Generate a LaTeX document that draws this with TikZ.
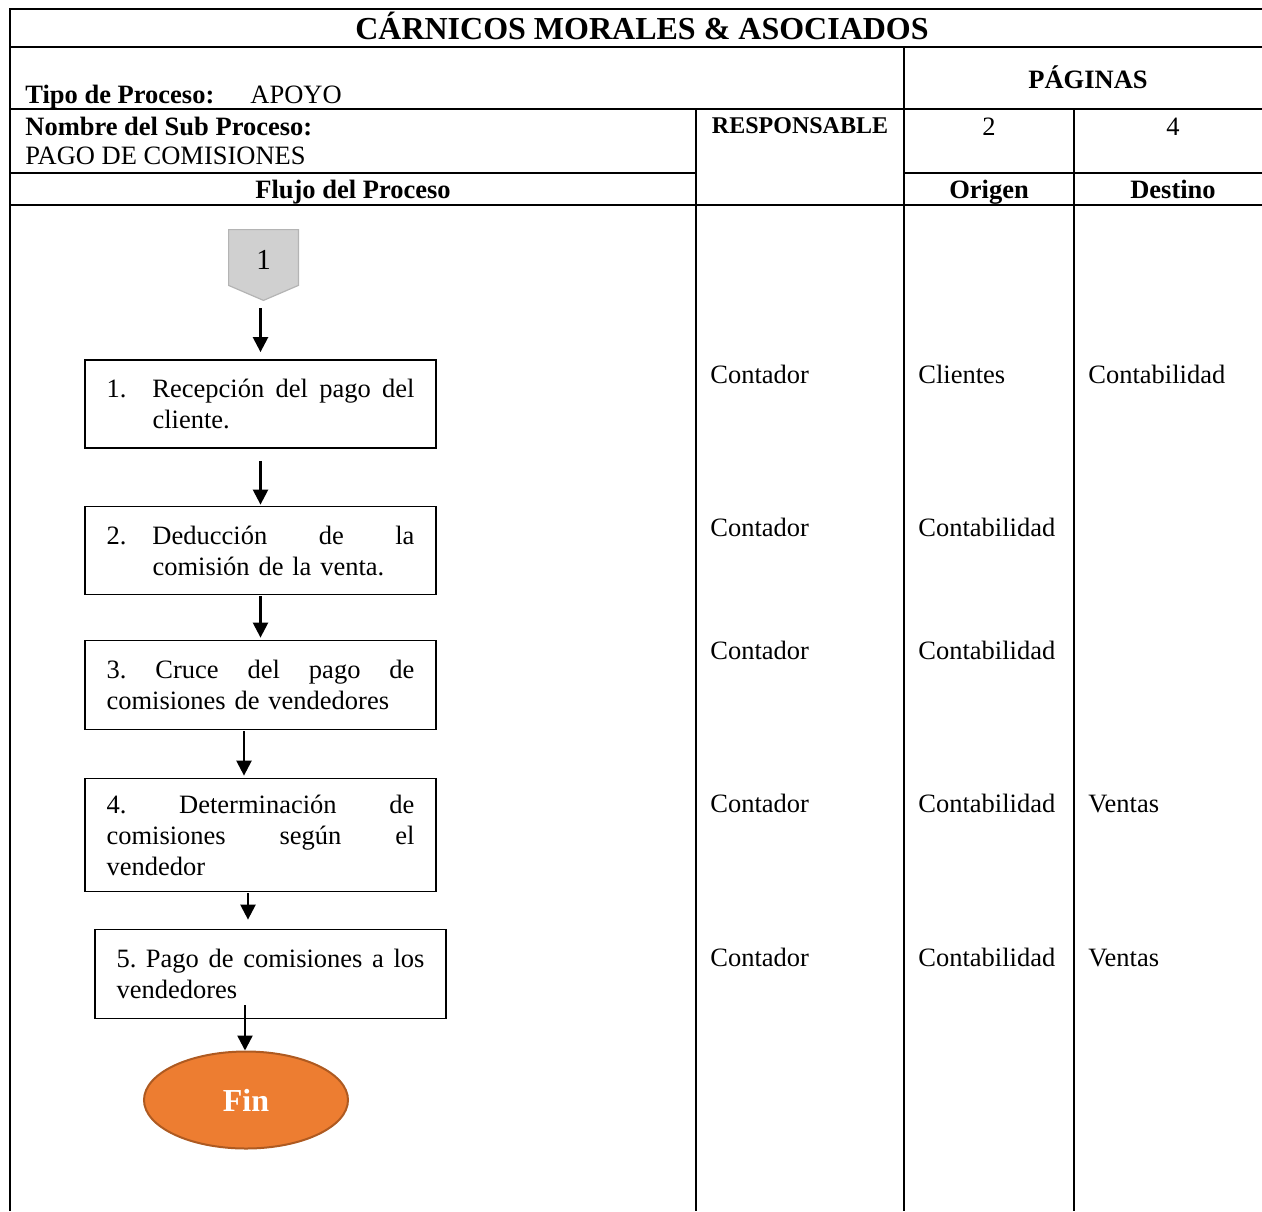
\documentclass[tikz,border=0pt]{standalone}
\usepackage{fontspec}
\setmainfont{Liberation Serif}
\usetikzlibrary{arrows.meta,shapes.geometric}
\definecolor{finfill}{HTML}{ED7D31}
\definecolor{findraw}{HTML}{AE5A21}
\definecolor{tagfill}{HTML}{D0D0D0}
\definecolor{tagdraw}{HTML}{B4B4B4}
\newcommand\txtsize{\fontsize{13.25pt}{15.5pt}\selectfont}
% a fully justified line: every interword space stretches evenly
\newcommand\jline[1]{\leavevmode\hbox to 154pt{\spaceskip=0.25em plus 1fil\relax\xspaceskip=\spaceskip #1}}

\begin{document}
\begin{tikzpicture}[x=0.5pt,y=-0.5pt,
  rule/.style={line width=1.15pt},
  cell/.style={inner sep=0pt, font=\txtsize},
  head/.style={inner sep=0pt, font=\txtsize\bfseries},
  procbox/.style={draw, line width=0.9pt, minimum width=175.5pt, text width=154pt,
    inner xsep=10.75pt, inner ysep=3pt, align=left, font=\txtsize},
  arr/.style={line width=1.2pt, -{Triangle[width=7.5pt,length=7.5pt]}},
]
\useasboundingbox (0,0) rectangle (1262,1211);

% table rules
\draw[rule] (10,1211) -- (10,9) -- (1262,9);
\draw[rule] (10,47) -- (1262,47);
\draw[rule] (10,109) -- (1262,109);
\draw[rule] (10,173) -- (696,173);
\draw[rule] (904,173) -- (1262,173);
\draw[rule] (10,205) -- (1262,205);
\draw[rule] (904,47) -- (904,1211);
\draw[rule] (696,109) -- (696,1211);
\draw[rule] (1074,109) -- (1074,1211);

% header texts
\node[head, font=\fontsize{16pt}{18pt}\selectfont\bfseries, anchor=base] (title) at (642,39) {CÁRNICOS MORALES \& ASOCIADOS};
\node[head, anchor=base west] (tipo) at (25,103) {Tipo de Proceso:};
\node[cell, anchor=base west] (apoyo) at (250,103) {APOYO};
\node[head, anchor=base] (pag) at (1088,88) {PÁGINAS};
\node[head, anchor=base west] (nombre) at (25,135) {Nombre del Sub Proceso:};
\node[cell, anchor=base west] (sub) at (25,164) {PAGO DE COMISIONES};
\node[head, font=\fontsize{12pt}{14pt}\selectfont\bfseries, anchor=base] (resp) at (800,133) {RESPONSABLE};
\node[cell, anchor=base] (p2) at (989,135) {2};
\node[cell, anchor=base] (p4) at (1173,135) {4};
\node[head, anchor=base] (flujo) at (353,198) {Flujo del Proceso};
\node[head, anchor=base] (orig) at (989,198) {Origen};
\node[head, anchor=base] (dest) at (1173,198) {Destino};

% off-page connector
\node[minimum width=34.5pt, minimum height=35pt, inner sep=0pt] (tag) at (263.5,265) {};
\filldraw[fill=tagfill, draw=tagdraw, line width=0.6pt]
  (tag.north west) -- (tag.north east) -- ([yshift=7.5pt]tag.south east)
  -- (tag.south) -- ([yshift=7.5pt]tag.south west) -- cycle;
\node[cell, font=\fontsize{14.5pt}{16pt}\selectfont, anchor=base] (tagnum) at (263.5,269) {1};

% process steps
\node[procbox, minimum height=44pt] (s1) at (260.5,404)
  {\jline{\makebox[23pt][l]{1.}Recepción del pago del}\\\hspace*{23pt}cliente.};
\node[procbox, minimum height=44pt] (s2) at (260.5,550.5)
  {\jline{\makebox[23pt][l]{2.}Deducción de la}\\\hspace*{23pt}comisión de la venta.};
\node[procbox, minimum height=44.5pt] (s3) at (260.5,685)
  {\jline{3. Cruce del pago de}\\comisiones de vendedores};
\node[procbox, minimum height=56.5pt] (s4) at (260.5,835)
  {\jline{4. Determinación de}\\\jline{comisiones según el}\\vendedor};
\node[procbox, minimum height=44.5pt] (s5) at (270.5,974)
  {\jline{5. Pago de comisiones a los}\\vendedores};
\node[ellipse, draw=findraw, fill=finfill, line width=1pt, minimum width=102pt,
  minimum height=48.5pt, text=white, font=\fontsize{16pt}{18pt}\selectfont\bfseries] (fin) at (246,1100) {Fin};

% flow arrows
\draw[arr] ([yshift=-4pt]s1.north |- tag.south) -- ([yshift=3.5pt]s1.north);
\draw[arr] ([yshift=-6pt]s1.south) -- ([yshift=0.5pt]s2.north);
\draw[arr] ([yshift=-0.5pt]s2.south) -- ([yshift=1pt]s3.north);
\draw[arr] ([xshift=-8.25pt,yshift=-0.5pt]s3.south) -- ([xshift=-8.25pt,yshift=1pt]s4.north);
\draw[arr] ([xshift=-6.25pt,yshift=-0.5pt]s4.south) -- ([xshift=-6.25pt,yshift=4.5pt]s4.south |- s5.north);
\draw[arr] ([xshift=-12.75pt,yshift=7pt]s5.south) -- ([xshift=-12.75pt]s5.south |- fin.north);

% responsible, origin and destination per step
\node[cell, anchor=base west] (r1) at (710,383) {Contador};
\node[cell, anchor=base west] (o1) at (918,383) {Clientes};
\node[cell, anchor=base west] (d1) at (1088,383) {Contabilidad};
\node[cell, anchor=base west] (r2) at (710,536) {Contador};
\node[cell, anchor=base west] (o2) at (918,536) {Contabilidad};
\node[cell, anchor=base west] (r3) at (710,659) {Contador};
\node[cell, anchor=base west] (o3) at (918,659) {Contabilidad};
\node[cell, anchor=base west] (r4) at (710,812) {Contador};
\node[cell, anchor=base west] (o4) at (918,812) {Contabilidad};
\node[cell, anchor=base west] (d4) at (1088,812) {Ventas};
\node[cell, anchor=base west] (r5) at (710,966) {Contador};
\node[cell, anchor=base west] (o5) at (918,966) {Contabilidad};
\node[cell, anchor=base west] (d5) at (1088,966) {Ventas};
\end{tikzpicture}
\end{document}
